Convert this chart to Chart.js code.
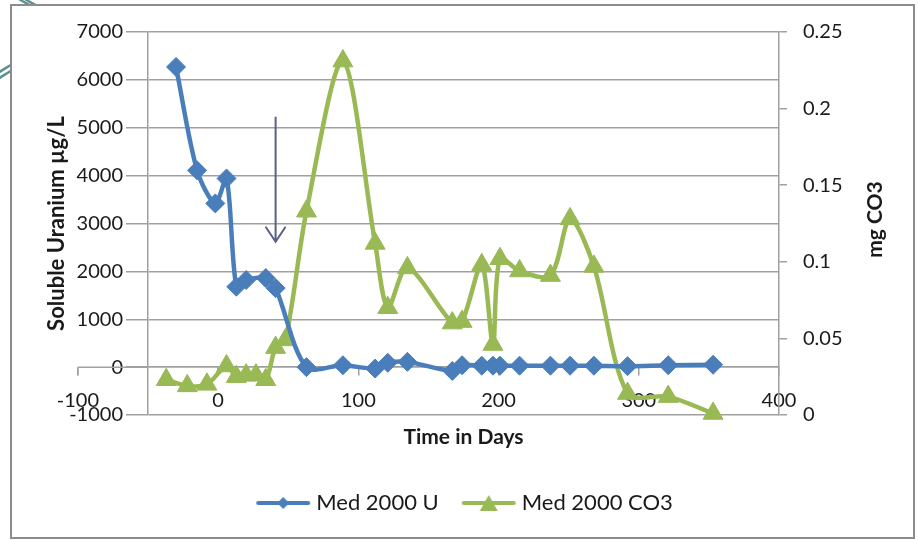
<!DOCTYPE html>
<html>
<head>
<meta charset="utf-8">
<script src="https://cdn.jsdelivr.net/npm/chart.js@4.4.1/dist/chart.umd.min.js"></script>
<style>
  html, body { margin: 0; padding: 0; background: #fff; }
  #wrap { width: 918px; height: 540px; }
</style>
</head>
<body>
<div id="wrap"><canvas id="chart" width="918" height="540"></canvas></div>
<script>
// =============================================
// DADOS
// =============================================
const uDays     = [-30, -15, -2, 6, 13, 20, 34, 41, 63, 89, 112, 121, 135, 167, 174, 188, 196, 201, 215, 237, 251, 268, 292, 321, 353];
const uValues   = [6270, 4110, 3420, 3940, 1680, 1820, 1860, 1650, 0, 40, -30, 90, 110, -80, 40, 30, 30, 30, 30, 30, 30, 30, 20, 40, 50];

const co3Days   = [-37, -22, -8, 6, 13, 20, 27, 34, 41, 48, 63, 89, 112, 121, 135, 167, 174, 188, 196, 201, 215, 237, 251, 268, 292, 321, 353];
const co3Values = [0.023, 0.019, 0.020, 0.032, 0.025, 0.026, 0.026, 0.023, 0.044, 0.049, 0.133, 0.231, 0.112, 0.070, 0.096,
                   0.060, 0.061, 0.098, 0.046, 0.102, 0.094, 0.091, 0.128, 0.097, 0.014, 0.012, 0.001];

const xTicks    = [-100, 0, 100, 200, 300, 400];

// seta de anotação (dia, de -> até, em µg/L)
const arrowDay  = 41;
const arrowFrom = 5230;
const arrowTo   = 2620;

const BLUE  = '#4a7ebb';
const GREEN = '#98b954';
const GRID  = '#a0a0a0';
const INK   = '#1a1a1a';

Chart.defaults.font.family = 'Lato';
Chart.defaults.color = INK;

// ícone da legenda: linha + marcador
function legendIcon(color, shape) {
  const c = document.createElement('canvas');
  c.width = 56; c.height = 22;
  const g = c.getContext('2d');
  g.strokeStyle = color; g.lineWidth = 4; g.lineCap = 'round';
  g.beginPath(); g.moveTo(3, 11); g.lineTo(53, 11); g.stroke();
  g.fillStyle = color;
  g.beginPath();
  if (shape === 'rectRot') {
    g.moveTo(28, 5); g.lineTo(34, 11); g.lineTo(28, 17); g.lineTo(22, 11);
  } else {
    g.moveTo(28, 3); g.lineTo(37, 19); g.lineTo(19, 19);
  }
  g.closePath(); g.fill();
  return c;
}

// moldura do slide + arcos decorativos
const framePlugin = {
  id: 'frame',
  beforeDraw(chart) {
    const ctx = chart.ctx;
    ctx.save();
    ctx.strokeStyle = '#5f9292';
    ctx.lineWidth = 2.5;
    [0, 6].forEach(o => {
      ctx.beginPath(); ctx.moveTo(-6, 82 - o); ctx.quadraticCurveTo(20, 62 - o, 45, 60 - o); ctx.stroke();
      ctx.beginPath(); ctx.moveTo(16 + o, -3); ctx.quadraticCurveTo(26 + o, 4, 40 + o, 10); ctx.stroke();
    });
    ctx.fillStyle = '#fff';
    ctx.fillRect(11, 5, 903, 533);
    ctx.strokeStyle = '#8c8c8c';
    ctx.lineWidth = 2;
    ctx.strokeRect(11, 5, 903, 533);
    ctx.restore();
  }
};

// prolonga o eixo X até -100, seta e título do eixo secundário
const extrasPlugin = {
  id: 'extras',
  afterDraw(chart) {
    const {ctx, chartArea, scales: {x, y}} = chart;
    const y0 = y.getPixelForValue(0);
    const xl = x.getPixelForValue(xTicks[0]);
    ctx.save();
    ctx.strokeStyle = GRID;
    ctx.lineWidth = 1.5;
    ctx.beginPath();
    ctx.moveTo(xl, y0); ctx.lineTo(chartArea.left, y0);
    ctx.moveTo(xl, y0); ctx.lineTo(xl, y0 + 8);
    ctx.stroke();

    const ax = x.getPixelForValue(arrowDay);
    const a1 = y.getPixelForValue(arrowFrom);
    const a2 = y.getPixelForValue(arrowTo);
    ctx.strokeStyle = '#5a6085';
    ctx.lineWidth = 2;
    ctx.beginPath();
    ctx.moveTo(ax, a1); ctx.lineTo(ax, a2);
    ctx.moveTo(ax - 10, a2 - 15); ctx.lineTo(ax, a2); ctx.lineTo(ax + 10, a2 - 15);
    ctx.stroke();

    ctx.translate(875, (chartArea.top + chartArea.bottom) / 2 - 4);
    ctx.rotate(-Math.PI / 2);
    ctx.fillStyle = INK;
    ctx.font = 'bold 21px Lato';
    ctx.textAlign = 'center';
    ctx.textBaseline = 'middle';
    ctx.fillText('mg CO3', 0, 0);
    ctx.restore();
  }
};

new Chart(document.getElementById('chart'), {
  type: 'line',
  data: {
    datasets: [
      {
        label: 'Med 2000 U',
        data: uDays.map((d, i) => ({x: d, y: uValues[i]})),
        yAxisID: 'y',
        borderColor: BLUE,
        backgroundColor: BLUE,
        borderWidth: 4.5,
        pointStyle: 'rectRot',
        pointRadius: 9.5,
        pointBorderWidth: 1,
        tension: 0.3,
        clip: false
      },
      {
        label: 'Med 2000 CO3',
        data: co3Days.map((d, i) => ({x: d, y: co3Values[i]})),
        yAxisID: 'y2',
        borderColor: GREEN,
        backgroundColor: GREEN,
        borderWidth: 4.5,
        pointStyle: 'triangle',
        pointRadius: 11.5,
        pointBorderWidth: 1,
        tension: 0.3,
        clip: false
      }
    ]
  },
  options: {
    responsive: false,
    animation: false,
    devicePixelRatio: 1,
    layout: { padding: { top: 32, left: 16, right: 0, bottom: 16 } },
    plugins: {
      tooltip: { enabled: false },
      legend: {
        position: 'bottom',
        labels: {
          usePointStyle: true,
          pointStyleWidth: 44,
          padding: 28,
          font: { size: 22 },
          color: INK,
          generateLabels: chart => chart.data.datasets.map((ds, i) => ({
            text: ds.label,
            datasetIndex: i,
            hidden: false,
            lineWidth: 0,
            fillStyle: ds.backgroundColor,
            strokeStyle: ds.borderColor,
            fontColor: INK,
            pointStyle: legendIcon(ds.borderColor, ds.pointStyle)
          }))
        }
      }
    },
    scales: {
      x: {
        type: 'linear',
        position: { y: 0 },
        min: -50,
        max: 400,
        bounds: 'data',
        afterBuildTicks: s => { s.ticks = xTicks.map(v => ({value: v})); },
        grid: { drawOnChartArea: false, drawTicks: true, tickLength: 8, color: GRID, lineWidth: 1.5 },
        border: { color: GRID, width: 1.5 },
        ticks: { autoSkip: false, maxRotation: 0, padding: 13, font: { size: 20 }, callback: v => String(v) }
      },
      xt: {
        type: 'linear',
        position: 'bottom',
        min: -50,
        max: 400,
        grid: { display: false, drawTicks: false },
        border: { display: false },
        ticks: { display: false },
        title: { display: true, text: 'Time in Days', font: { size: 21, weight: 'bold' }, padding: { top: 9.4, bottom: 14.4 } }
      },
      y: {
        position: 'left',
        min: -1000,
        max: 7000,
        afterFit: s => { s.width = 132; },
        grid: { color: GRID, lineWidth: 1.5, tickLength: 22 },
        border: { color: GRID, width: 1.5 },
        ticks: { stepSize: 1000, padding: 3, font: { size: 20 }, callback: v => String(v) },
        title: { display: true, text: 'Soluble Uranium µg/L', font: { size: 22, weight: 'bold' }, padding: { top: 28, bottom: 0 } }
      },
      y2: {
        position: 'right',
        min: 0,
        max: 0.25,
        afterFit: s => { s.width = 139; },
        grid: { drawOnChartArea: false, color: GRID, lineWidth: 1.5, tickLength: 8 },
        border: { color: GRID, width: 1.5 },
        ticks: { stepSize: 0.05, padding: 16, font: { size: 20 }, callback: v => String(+v.toFixed(2)) }
      }
    }
  },
  plugins: [framePlugin, extrasPlugin]
});
</script>
</body>
</html>
